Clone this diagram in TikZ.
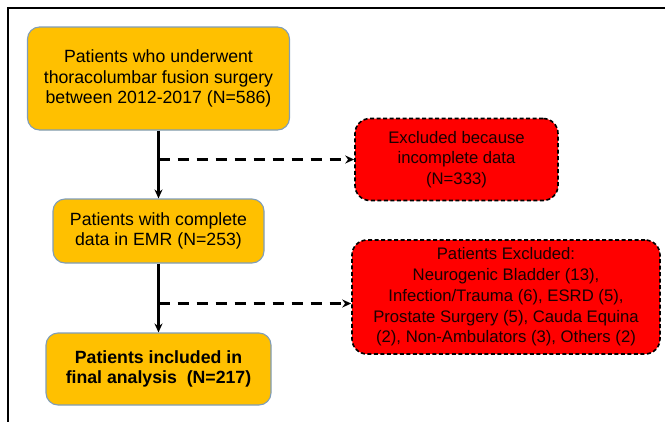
\documentclass[tikz,border=0pt]{standalone}
\usepackage{fontspec}
\setmainfont{Liberation Sans}
\usepackage{xcolor}
\usetikzlibrary{arrows.meta}
\definecolor{boxorange}{HTML}{FFC000}
\definecolor{boxedge}{HTML}{7F9DB9}
\definecolor{boxred}{HTML}{FF0000}
\definecolor{droptext}{HTML}{1A0000}

\begin{document}
\begin{tikzpicture}[x=1pt,y=-1pt,
  keep/.style={draw=boxedge, line width=1.1pt, fill=boxorange, rounded corners=12pt,
    align=center, inner sep=0pt, font=\fontsize{17.7}{20.3}\selectfont},
  drop/.style={draw=black, dash pattern=on 4pt off 2.5pt, line width=1.6pt, fill=boxred,
    rounded corners=15pt, align=center, inner sep=0pt, text=droptext,
    font=\fontsize{16.7}{20.7}\selectfont},
  flow/.style={line width=2.2pt, -{Stealth[length=9pt,width=8pt]}},
  side/.style={line width=2.6pt, dash pattern=on 11pt off 8pt, -{Stealth[length=9pt,width=8pt]}}]
  \useasboundingbox (0,0) rectangle (665,421);

  % Frame
  \draw[line width=2pt] (8,430) -- (8,8) -- (675,8);

  % Main stream
  \node[keep, minimum width=262pt, minimum height=103pt] (start) at (158.5,78.5)
    {Patients who underwent\\thoracolumbar fusion surgery\\between 2012-2017 (N=586)};
  \node[keep, minimum width=211pt, minimum height=64pt] (emr) at (158.5,231)
    {Patients with complete\\data in EMR (N=253)};
  \node[keep, minimum width=225pt, minimum height=72pt] (final) at (158.5,369)
    {\textbf{Patients included in}\\\textbf{final analysis\ \ (N=217)}};

  % Excluded boxes
  \node[drop, minimum width=203pt, minimum height=82pt] (nodata) at (456.5,159.5)
    {Excluded because\\incomplete data\\(N=333)};
  \node[drop, minimum width=308pt, minimum height=114pt] (other) at (506,297)
    {Patients Excluded:\\Neurogenic Bladder (13),\\Infection/Trauma (6), ESRD (5),\\Prostate Surgery (5), Cauda Equina\\(2), Non-Ambulators (3), Others (2)};

  % Connectors
  \coordinate (split1) at (158.5,159.5);
  \coordinate (split2) at (158.5,303.5);
  \draw[flow] (start.south) -- (emr.north);
  \draw[flow] (emr.south) -- (final.north);
  \draw[side] (split1) -- (nodata.west);
  \draw[side] (split2) -- (split2 -| other.west);
\end{tikzpicture}
\end{document}
